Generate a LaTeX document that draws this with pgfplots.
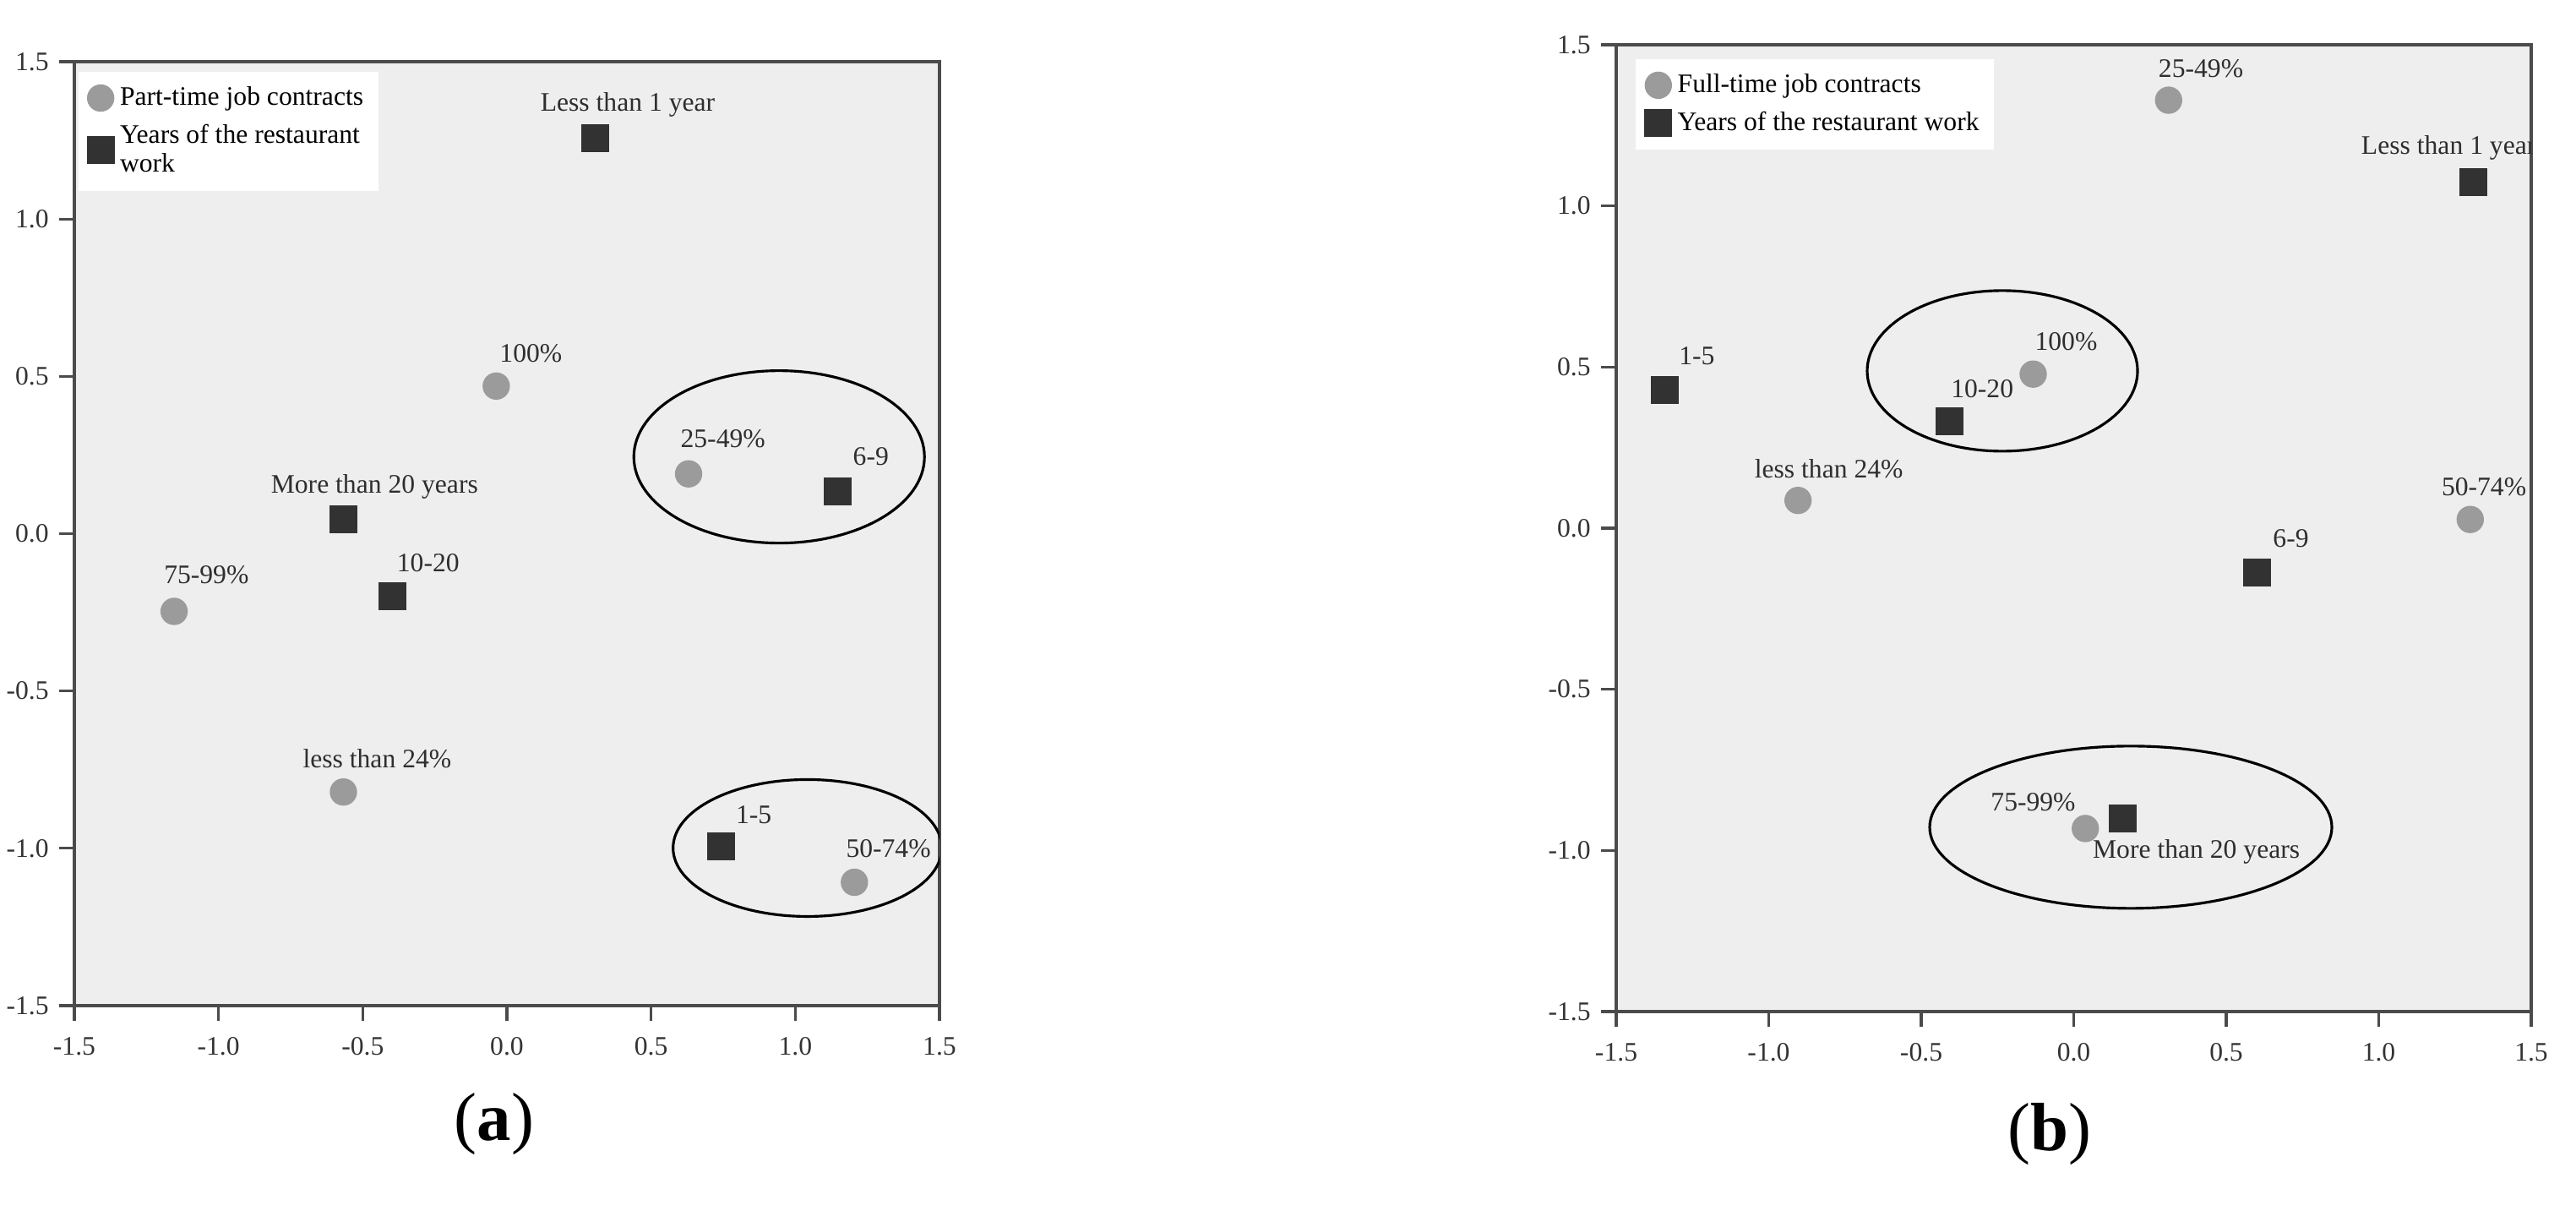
\documentclass[border=0pt]{standalone}
\usepackage{fontspec}
\setmainfont{Liberation Serif}
\usepackage{pgfplots}
\pgfplotsset{compat=1.18}
\definecolor{bgc}{RGB}{238,238,238}
\definecolor{ptc}{RGB}{155,155,155}
\definecolor{sqc}{RGB}{50,50,50}
\definecolor{axc}{RGB}{75,75,75}
\newcommand{\lbf}{\fontsize{9}{10}\selectfont}
\newcommand{\lb}[3]{\node[font=\lbf,text=black!82,inner sep=0pt] at (axis cs:#1,#2) {#3};}
\pgfplotsset{
  mca/.style={
    scale only axis, anchor=south west,
    xmin=-1.5, xmax=1.5, ymin=-1.5, ymax=1.5,
    xtick={-1.5,-1.0,-0.5,0,0.5,1.0,1.5},
    ytick={-1.5,-1.0,-0.5,0,0.5,1.0,1.5},
    tick align=outside, xtick pos=bottom, ytick pos=left,
    major tick length=0.18cm,
    axis line style={axc, line width=0.9pt},
    every tick/.style={axc, line width=0.9pt},
    tick label style={font=\lbf, text=black!80},
    /pgf/number format/assume math mode=true,
    /pgf/number format/fixed,
    /pgf/number format/fixed zerofill,
    /pgf/number format/precision=1,
    xticklabel style={yshift=-2pt},
    axis background/.style={fill=bgc},
    legend cell align=left,
    legend style={draw=none, fill=white, font=\fontsize{9}{9.6}\selectfont,
      cells={align=left}, inner xsep=3pt, inner ysep=3pt, row sep=1pt},
    legend image code/.code={\draw[#1] plot coordinates {(0.16cm,0cm)};},
  },
  circ/.style={only marks, mark=*, mark size=4.4pt, color=ptc, mark options={fill=ptc, draw=ptc}},
  sqr/.style={only marks, mark=square*, mark size=4.5pt, color=sqc, mark options={fill=sqc, draw=sqc}},
}
\begin{document}
\begin{tikzpicture}
\path[use as bounding box] (0,0) rectangle (30.49,14.33);

% (a)
\begin{axis}[mca, at={(0.88cm,2.43cm)}, width=10.24cm, height=11.17cm,
  legend style={at={(0.004,0.99)}, anchor=north west}]
\addplot[circ] coordinates {(-0.037,0.469) (0.63,0.19) (-1.154,-0.247) (-0.567,-0.821) (1.205,-1.108)};
\addlegendentry{Part-time job contracts}
\addplot[sqr] coordinates {(0.305,1.257) (1.148,0.134) (-0.567,0.046) (-0.396,-0.2) (0.744,-0.993)};
\addlegendentry{Years of the restaurant\\work}
\lb{0.419}{1.362}{Less than 1 year}
\lb{0.083}{0.573}{100\%}
\lb{0.749}{0.302}{25-49\%}
\lb{1.262}{0.244}{6-9}
\lb{-0.459}{0.150}{More than 20 years}
\lb{-1.042}{-0.132}{75-99\%}
\lb{-0.273}{-0.093}{10-20}
\lb{-0.450}{-0.714}{less than 24\%}
\lb{0.856}{-0.893}{1-5}
\lb{1.323}{-1.001}{50-74\%}
\draw[black, line width=0.9pt] (axis cs:0.944,0.244) ellipse [x radius=1.72cm, y radius=1.02cm];
\draw[black, line width=0.9pt] (axis cs:1.042,-0.999) ellipse [x radius=1.59cm, y radius=0.81cm];
\end{axis}

% (b)
\begin{axis}[mca, at={(19.13cm,2.36cm)}, width=10.83cm, height=11.44cm,
  legend style={at={(0.021,0.986)}, anchor=north west}]
\addplot[circ] coordinates {(0.311,1.328) (-0.133,0.478) (-0.904,0.086) (1.300,0.027) (0.038,-0.932)};
\addlegendentry{Full-time job contracts}
\addplot[sqr] coordinates {(1.310,1.073) (-1.342,0.429) (-0.406,0.332) (0.602,-0.138) (0.161,-0.901)};
\addlegendentry{Years of the restaurant work}
\lb{0.417}{1.427}{25-49\%}
\lb{1.229}{1.181}{Less than 1 year}
\lb{-1.236}{0.534}{1-5}
\lb{-0.025}{0.578}{100\%}
\lb{-0.300}{0.431}{10-20}
\lb{-0.803}{0.185}{less than 24\%}
\lb{1.345}{0.127}{50-74\%}
\lb{0.712}{-0.031}{6-9}
\lb{-0.133}{-0.851}{75-99\%}
\lb{0.402}{-1.004}{More than 20 years}
\draw[black, line width=0.9pt] (axis cs:-0.234,0.488) ellipse [x radius=1.60cm, y radius=0.95cm];
\draw[black, line width=0.9pt] (axis cs:0.187,-0.928) ellipse [x radius=2.38cm, y radius=0.96cm];
\end{axis}

\node[anchor=base, font=\fontsize{23}{26}\selectfont] at (5.85,0.83) {(\textbf{a})};
\node[anchor=base, font=\fontsize{23}{26}\selectfont] at (24.26,0.71) {(\textbf{b})};
\end{tikzpicture}
\end{document}
